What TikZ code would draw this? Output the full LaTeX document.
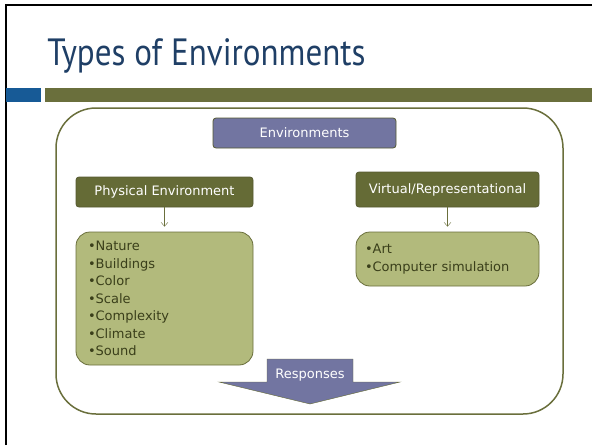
\documentclass[tikz,border=0pt]{standalone}
\usepackage{fontspec}
\setmainfont{DejaVu Sans}
\newfontfamily\titlefont{PT Sans}
\usetikzlibrary{arrows.meta}
\definecolor{titleblue}{HTML}{1F3F66}
\definecolor{barblue}{HTML}{175A96}
\definecolor{barolive}{HTML}{6A6F3C}
\definecolor{darkolive}{HTML}{656B36}
\definecolor{lightolive}{HTML}{B2BA7C}
\definecolor{slate}{HTML}{7275A1}
\definecolor{listtext}{HTML}{3A3F1A}

\begin{document}
\begin{tikzpicture}[x=1pt,y=-1pt,>={Straight Barb[length=4pt,width=7pt]},thick]
\tikzset{HeadStyle/.style = {draw=barolive!80!black,rounded corners=3pt,
                             fill=darkolive,text=white,
                             font=\fontsize{13}{15}\selectfont},
         TopStyle/.style  = {HeadStyle,fill=slate},
         ListStyle/.style = {draw=barolive,rounded corners=14pt,
                             fill=lightolive,text=listtext,align=left,
                             font=\fontsize{13}{17.5}\selectfont}}
\useasboundingbox (0,0) rectangle (592,445);
% slide frame and bars
\draw[line width=2pt] (6,445) -- (6,5) -- (592,5);
\fill[barblue] (6,88) rectangle (41,102);
\fill[barolive] (45,88) rectangle (592,102);
\node[anchor=base west,text=titleblue,inner sep=0pt]
  (title) at (47,65) {\scalebox{0.87}[1]{\titlefont\fontsize{38}{40}\selectfont Types of Environments}};
% outer box
\draw[barolive,line width=1.5pt,rounded corners=40pt] (56,108) rectangle (563,414);
% heads
\node[TopStyle,minimum width=183pt,minimum height=30pt] (env) at (304.5,133) {Environments};
\node[HeadStyle,minimum width=177pt,minimum height=30pt] (phys) at (164.5,192) {Physical Environment};
\node[HeadStyle,minimum width=183pt,minimum height=35pt] (virt) at (447.5,189.5) {Virtual/Representational};
% lists
\node[ListStyle,minimum width=177pt,minimum height=133pt,text width=153pt] (physlist) at (164.5,298.5)
  {•Nature\\•Buildings\\•Color\\•Scale\\•Complexity\\•Climate\\•Sound};
\node[ListStyle,minimum width=183pt,minimum height=54pt,text width=165pt] (virtlist) at (447.5,259)
  {•Art\\•Computer simulation};
\draw[->,barolive,thin,shorten >=5pt] (phys) -- (physlist);
\draw[->,barolive,thin,shorten >=5pt] (virt) -- (virtlist);
% responses arrow
\draw[draw=darkolive,fill=slate,thin] (267,359) -- (353,359) -- (353,382) -- (400,382)
  -- (310,404) -- (219,382) -- (267,382) -- cycle;
\node[text=white,font=\fontsize{13}{15}\selectfont] (resp) at (310,375) {Responses};
\end{tikzpicture}
\end{document}
